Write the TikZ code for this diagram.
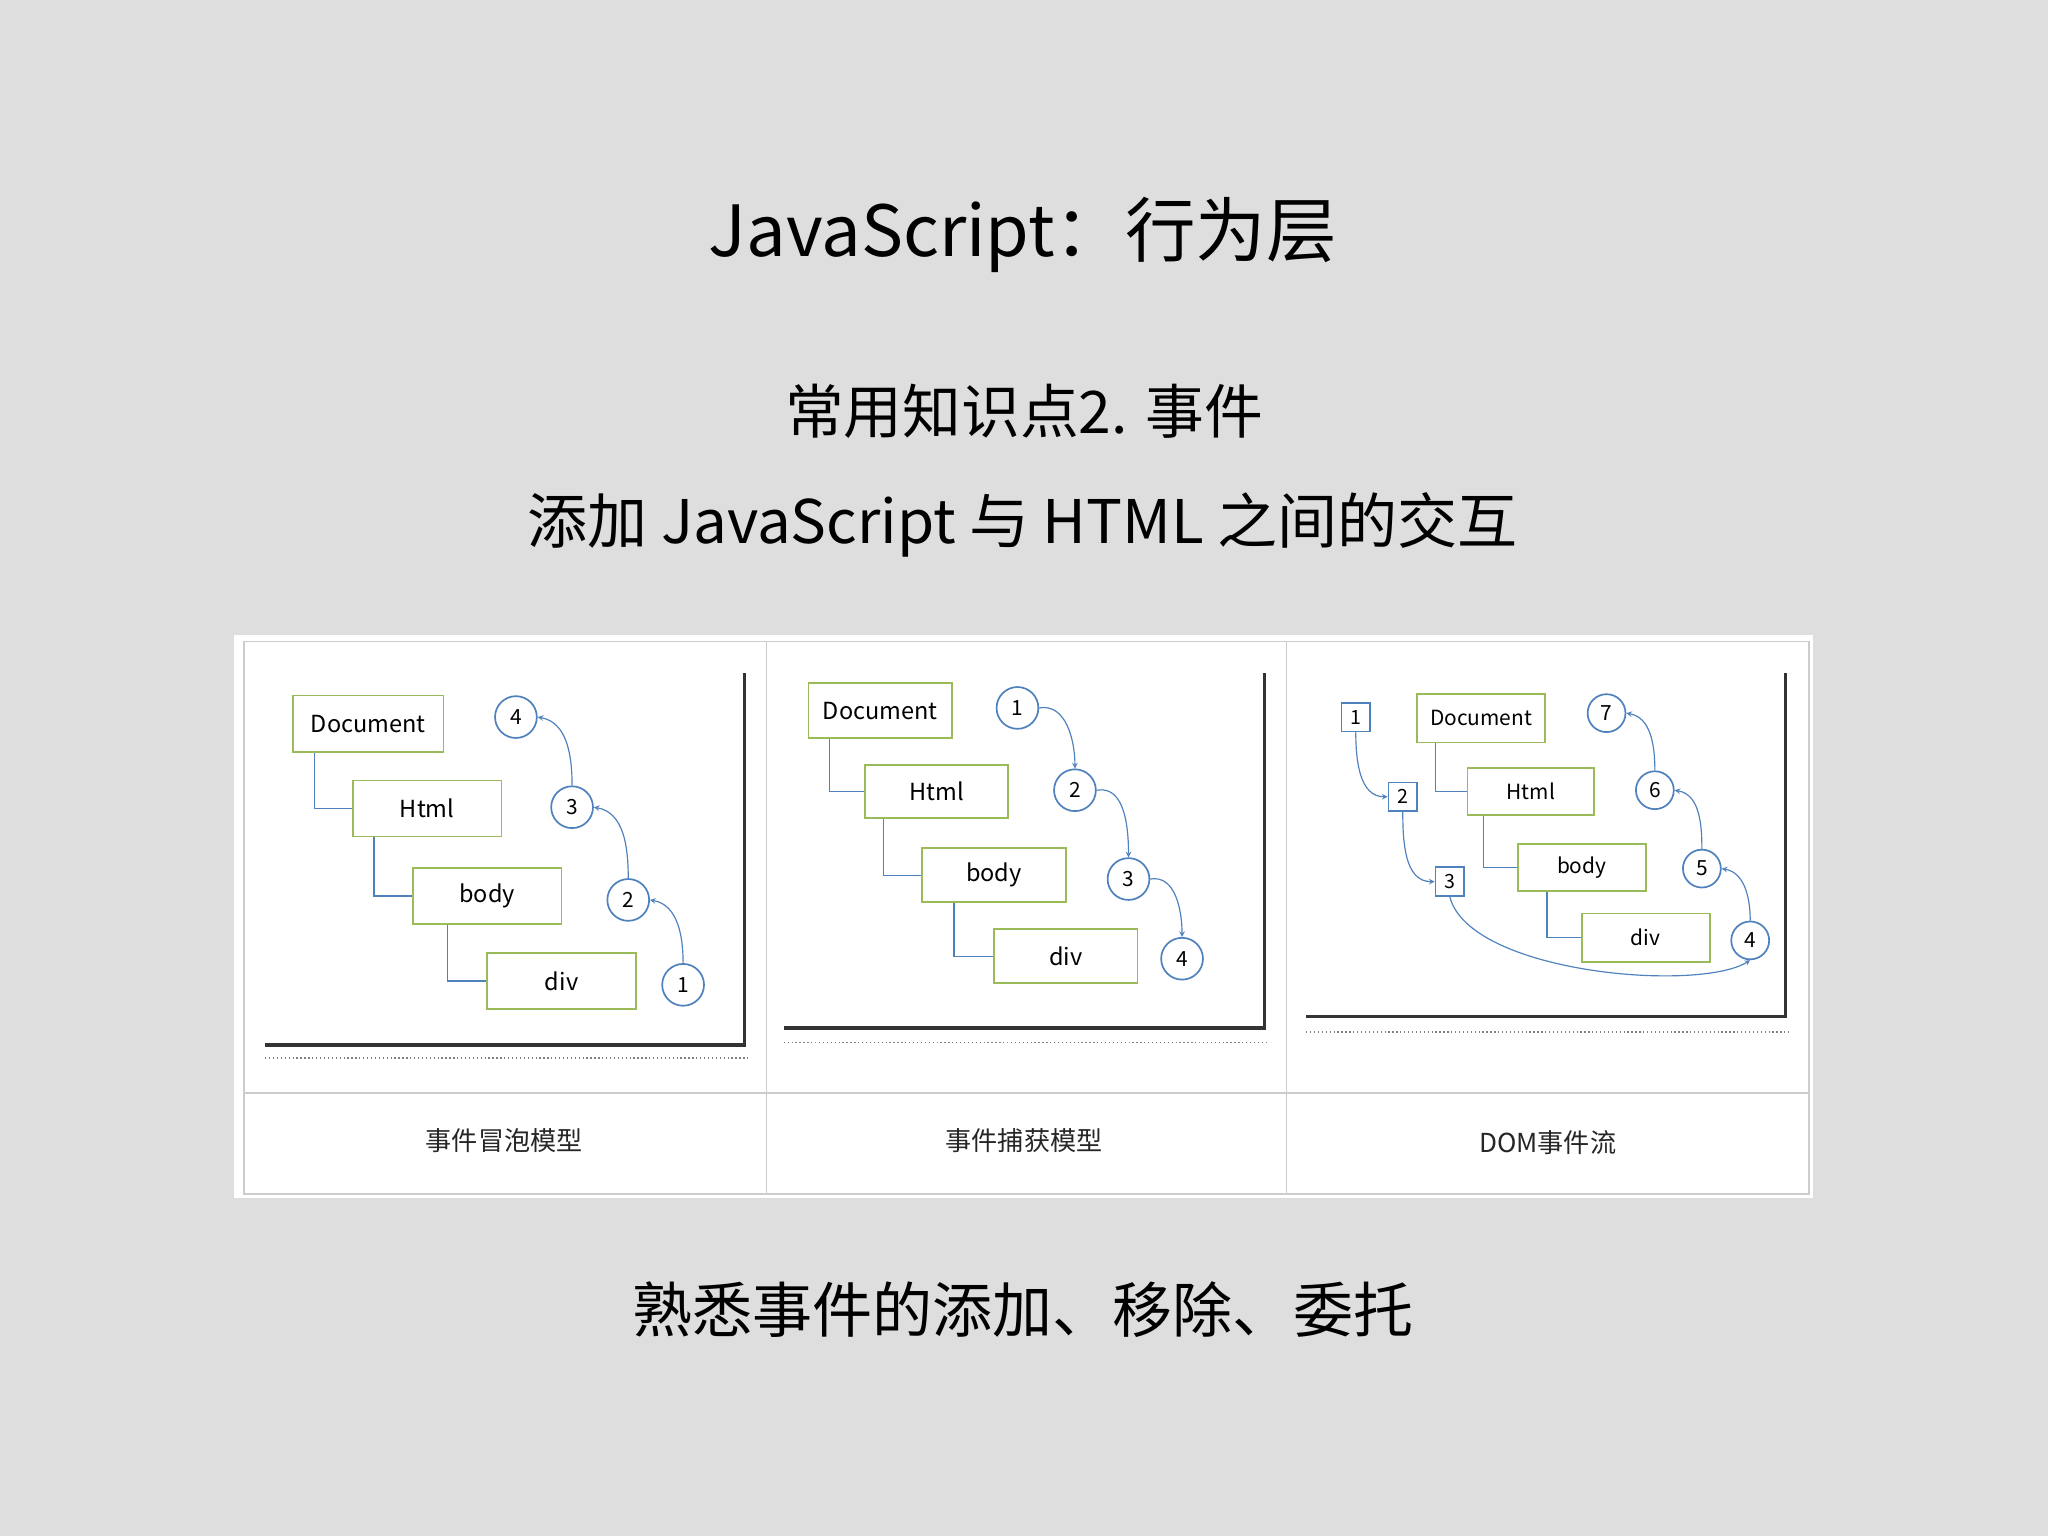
\documentclass[tikz,border=0pt]{standalone}
\usepackage{fontspec}
\setmainfont{Noto Sans CJK SC}
\setsansfont{Noto Sans CJK SC}
\begin{document}
\begin{tikzpicture}[x=1pt,y=-1pt,
  bx/.style={line width=1.3pt,fill=white,inner sep=0pt,font=\fontsize{18}{18}\selectfont},
  cc/.style={draw=lb,circle,line width=1.3pt,fill=white,inner sep=0pt,minimum size=32pt,font=\fontsize{16}{16}\selectfont},
  sq/.style={draw=lb,line width=1.3pt,fill=white,inner sep=0pt,minimum size=22pt,font=\fontsize{15}{15}\selectfont},
  tl/.style={draw=lb,line width=0.9pt},
  arr/.style={draw=lb,line width=0.9pt,->,>=stealth},
  captext/.style={font=\fontsize{20}{20}\selectfont,text=black!85},
  sh/.style={draw=black!80,line width=2.5pt},
  dt/.style={draw=black!50,dotted,line width=1pt}]
\definecolor{bg}{HTML}{DEDEDE}
\definecolor{gb}{HTML}{9BBB59}
\definecolor{lb}{HTML}{4F81BD}
\tikzset{bx/.append style={draw=gb}}
\fill[bg] (0,0) rectangle (1568,1176);
\useasboundingbox (0,0) rectangle (1568,1176);
\node (t1) at (783,180) {\fontsize{54}{54}\selectfont JavaScript：行为层};
\node (t2) at (784,315) {\fontsize{45}{45}\selectfont 常用知识点2. 事件};
\node (t3) at (783,402) {\fontsize{46}{46}\selectfont 添加 JavaScript 与 HTML 之间的交互};
\node (t4) at (783,1003) {\fontsize{46}{46}\selectfont 熟悉事件的添加、移除、委托};
% table
\fill[white] (179,486) rectangle (1388,917);
\draw[black!20,line width=1.2pt] (187,491) rectangle (1385,914);
\draw[black!20,line width=1.2pt] (187,837) -- (1385,837);
\draw[black!20,line width=1.2pt] (587,491) -- (587,914);
\draw[black!20,line width=1.2pt] (985,491) -- (985,914);
\node[captext] (c1) at (386,873) {事件冒泡模型};
\node[captext] (c2) at (784,873) {事件捕获模型};
\node[captext] (c3) at (1185,875) {DOM事件流};
% panel 1
\draw[sh] (203,800) -- (570,800) -- (570,515);
\draw[dt] (203,810) -- (573,810);
\node[bx,minimum width=115pt,minimum height=43pt] (d1) at (282,554) {Document};
\node[bx,minimum width=114pt,minimum height=43pt] (h1) at (327,619) {Html};
\node[bx,minimum width=114pt,minimum height=43pt] (b1) at (373,686) {body};
\node[bx,minimum width=114pt,minimum height=43pt] (v1) at (430,751) {div};
\draw[tl] ([xshift=17pt]d1.south west) |- (h1.west);
\draw[tl] ([xshift=17pt]h1.south west) |- (b1.west);
\draw[tl] ([xshift=27pt]b1.south west) |- (v1.west);
\node[cc] (p14) at (395,549) {4};
\node[cc] (p13) at (438,618) {3};
\node[cc] (p12) at (481,689) {2};
\node[cc] (p11) at (523,754) {1};
\draw[arr] (p11.north) to[out=90,in=-10] (p12.east);
\draw[arr] (p12.north) to[out=90,in=-10] (p13.east);
\draw[arr] (p13.north) to[out=90,in=-10] (p14.east);
% panel 2
\draw[sh] (600,787) -- (968,787) -- (968,515);
\draw[dt] (600,798) -- (972,798);
\node[bx,minimum width=110pt,minimum height=42pt] (d2) at (674,544) {Document};
\node[bx,minimum width=110pt,minimum height=41pt] (h2) at (717,606) {Html};
\node[bx,minimum width=110pt,minimum height=41pt] (b2) at (761,670) {body};
\node[bx,minimum width=110pt,minimum height=41pt] (v2) at (816,732) {div};
\draw[tl] ([xshift=17pt]d2.south west) |- (h2.west);
\draw[tl] ([xshift=15pt]h2.south west) |- (b2.west);
\draw[tl] ([xshift=25pt]b2.south west) |- (v2.west);
\node[cc] (p21) at (779,542) {1};
\node[cc] (p22) at (823,605) {2};
\node[cc] (p23) at (864,673) {3};
\node[cc] (p24) at (905,734) {4};
\draw[arr] (p21.east) to[out=10,in=90] (p22.north);
\draw[arr] (p22.east) to[out=10,in=90] (p23.north);
\draw[arr] (p23.east) to[out=10,in=90] (p24.north);
% panel 3
\draw[sh] (1000,778) -- (1367,778) -- (1367,515);
\draw[dt] (1000,790) -- (1371,790);
\node[bx,minimum width=98pt,minimum height=37pt,font=\fontsize{16}{16}\selectfont] (d3) at (1134,550) {Document};
\node[bx,minimum width=97pt,minimum height=36pt,font=\fontsize{16}{16}\selectfont] (h3) at (1172,606) {Html};
\node[bx,minimum width=98pt,minimum height=36pt,font=\fontsize{16}{16}\selectfont] (b3) at (1211,664) {body};
\node[bx,minimum width=98pt,minimum height=37pt,font=\fontsize{16}{16}\selectfont] (v3) at (1260,718) {div};
\draw[tl] ([xshift=15pt]d3.south west) |- (h3.west);
\draw[tl] ([xshift=13pt]h3.south west) |- (b3.west);
\draw[tl] ([xshift=23pt]b3.south west) |- (v3.west);
\node[sq] (s1) at (1038,549) {1};
\node[sq] (s2) at (1074,610) {2};
\node[sq] (s3) at (1110,675) {3};
\node[cc,minimum size=29pt] (p37) at (1230,546) {7};
\node[cc,minimum size=29pt] (p36) at (1267,605) {6};
\node[cc,minimum size=29pt] (p35) at (1303,665) {5};
\node[cc,minimum size=29pt] (p34) at (1340,720) {4};
\draw[arr] (s1.south) to[out=-90,in=180] (s2.west);
\draw[arr] (s2.south) to[out=-90,in=180] (s3.west);
\draw[arr] (s3.south) .. controls (1125,745) and (1300,760) .. (p34.south);
\draw[arr] (p34.north) to[out=90,in=-10] (p35.east);
\draw[arr] (p35.north) to[out=90,in=-10] (p36.east);
\draw[arr] (p36.north) to[out=90,in=-10] (p37.east);
\end{tikzpicture}
\end{document}
